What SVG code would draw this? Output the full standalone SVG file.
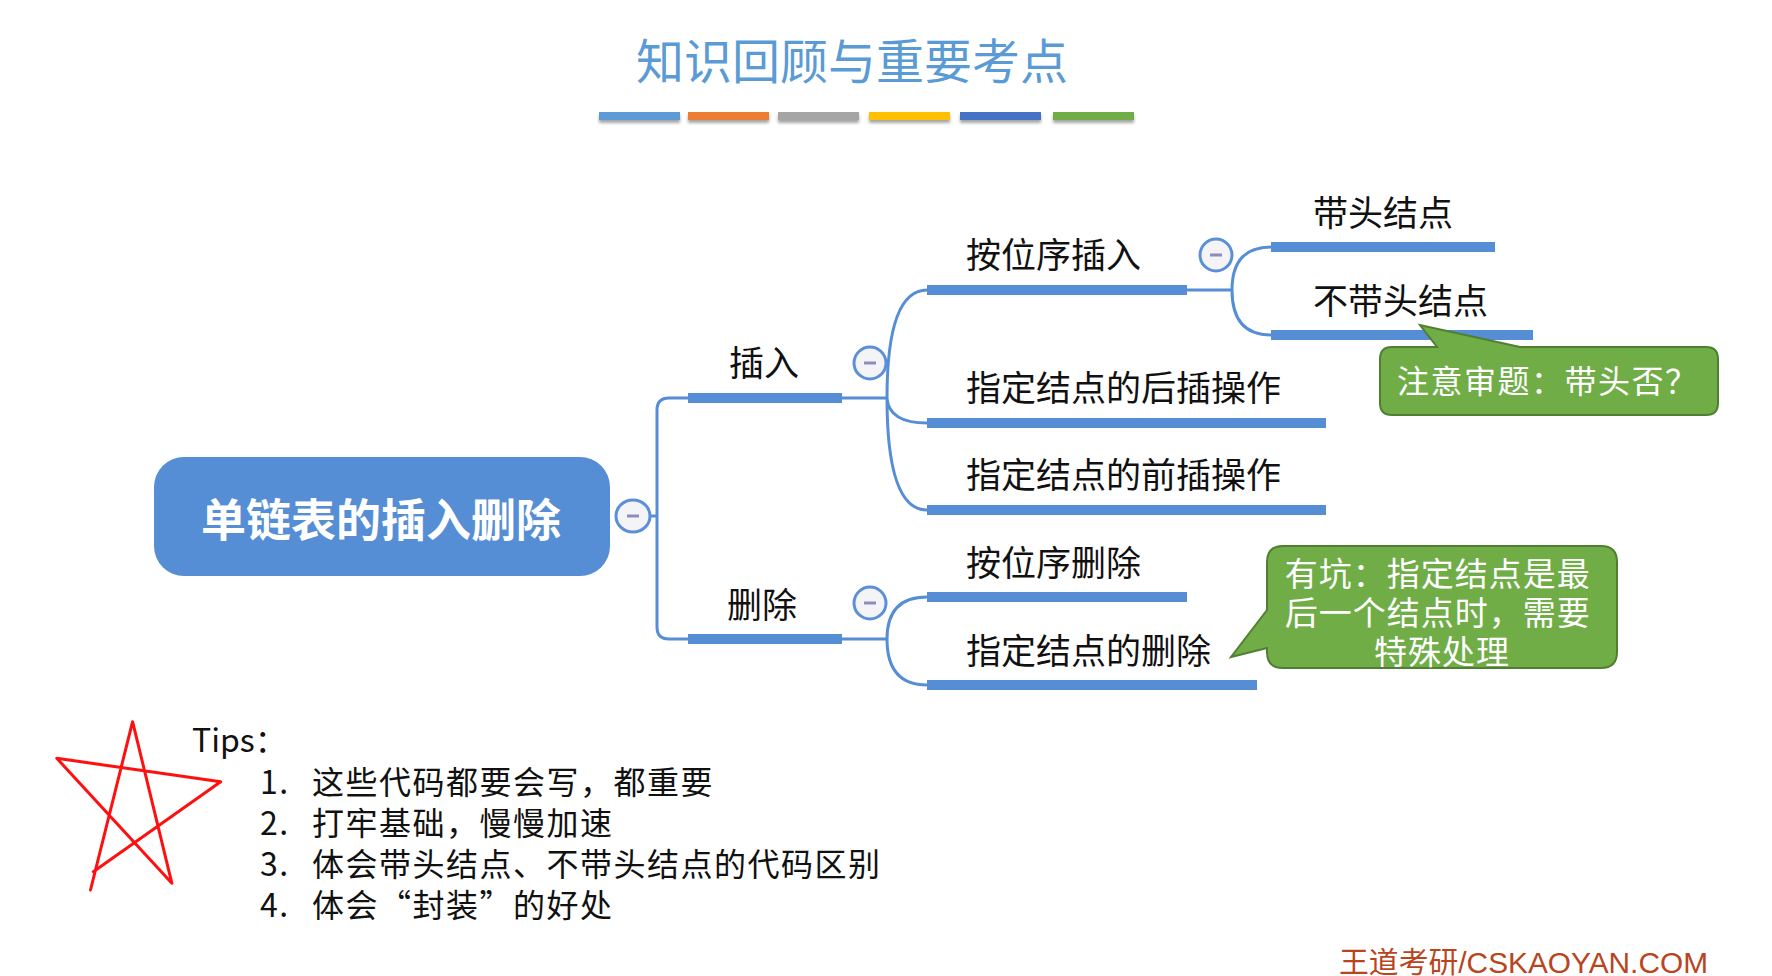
<svg xmlns="http://www.w3.org/2000/svg" width="1772" height="976" viewBox="0 0 1772 976">
<style>
.cjk{font-family:"Noto Sans CJK SC","Liberation Sans",sans-serif}
.lbl{font-family:"Noto Sans CJK SC",sans-serif;font-size:35px;fill:#111}
.thin{fill:none;stroke:#558ED5;stroke-width:3}
.bar{fill:none;stroke:#558ED5;stroke-width:10}
.btn{fill:#F4F4F6;stroke:#5B8FD9;stroke-width:3}
.minus{stroke:#8C8CC0;stroke-width:3}
.callout{fill:#70AD47;stroke:#507E32;stroke-width:2}
.cotext{font-family:"Noto Sans CJK SC",sans-serif;fill:#fff}
.tips{font-family:"Noto Sans CJK SC",sans-serif;font-size:32px;fill:#111}
</style>
<defs>
<filter id="sh" x="-10%" y="-50%" width="120%" height="250%">
<feDropShadow dx="0" dy="3" stdDeviation="1.5" flood-color="#000" flood-opacity="0.35"/>
</filter>
</defs>
<rect width="1772" height="976" fill="#fff"/>

<g id="title">
<text x="852" y="79" text-anchor="middle" class="cjk" font-size="48" fill="#5B9BD5">知识回顾与重要考点</text>
<g filter="url(#sh)">
<rect x="599" y="112" width="81" height="8" fill="#5B9BD5"/>
<rect x="688" y="112" width="81" height="8" fill="#ED7D31"/>
<rect x="778" y="112" width="81" height="8" fill="#A5A5A5"/>
<rect x="869" y="112" width="81" height="8" fill="#FFC000"/>
<rect x="960" y="112" width="81" height="8" fill="#4472C4"/>
<rect x="1053" y="112" width="81" height="8" fill="#70AD47"/>
</g>
</g>

<g id="connectors">
<path class="thin" d="M650 516 H657 M688 398 H669 Q657 398 657 410 V627 Q657 639 669 639 H688"/>
<path class="thin" d="M842 398 H887 M887 398 Q887 290 927 290 M887 398 Q889 423 927 423 M887 398 Q887 510 927 510"/>
<path class="thin" d="M1187 290 H1232 M1232 290 Q1232 247 1271 247 M1232 290 Q1232 335 1271 335"/>
<path class="thin" d="M842 639 H887 M887 639 Q887 597 927 597 M887 639 Q887 685 927 685"/>
</g>

<g id="root">
<rect x="154" y="457" width="456" height="119" rx="30" fill="#558ED5"/>
<text x="381" y="537" text-anchor="middle" class="cjk" font-size="45" font-weight="bold" fill="#fff">单链表的插入删除</text>
<ellipse class="btn" cx="633" cy="516" rx="17" ry="16"/>
<line class="minus" x1="627" y1="516" x2="639" y2="516"/>
</g>

<g id="insert">
<line class="bar" x1="688" y1="398" x2="842" y2="398"/>
<text x="729" y="376" class="lbl">插入</text>
<ellipse class="btn" cx="870" cy="363" rx="16" ry="16"/>
<line class="minus" x1="864" y1="363" x2="876" y2="363"/>
</g>

<g id="insert-by-pos">
<line class="bar" x1="927" y1="290" x2="1187" y2="290"/>
<text x="966" y="268" class="lbl">按位序插入</text>
<ellipse class="btn" cx="1216" cy="255" rx="16" ry="16"/>
<line class="minus" x1="1210" y1="255" x2="1222" y2="255"/>
</g>

<g id="with-head">
<line class="bar" x1="1271" y1="247" x2="1495" y2="247"/>
<text x="1313" y="226" class="lbl">带头结点</text>
</g>

<g id="without-head">
<line class="bar" x1="1271" y1="335" x2="1533" y2="335"/>
<text x="1313" y="314" class="lbl">不带头结点</text>
</g>

<g id="insert-after">
<line class="bar" x1="927" y1="423" x2="1326" y2="423"/>
<text x="966" y="401" class="lbl">指定结点的后插操作</text>
</g>

<g id="insert-before">
<line class="bar" x1="927" y1="510" x2="1326" y2="510"/>
<text x="966" y="488" class="lbl">指定结点的前插操作</text>
</g>

<g id="delete">
<line class="bar" x1="688" y1="639" x2="842" y2="639"/>
<text x="727" y="618" class="lbl">删除</text>
<ellipse class="btn" cx="870" cy="603" rx="16" ry="16"/>
<line class="minus" x1="864" y1="603" x2="876" y2="603"/>
</g>

<g id="delete-by-pos">
<line class="bar" x1="927" y1="597" x2="1187" y2="597"/>
<text x="966" y="576" class="lbl">按位序删除</text>
</g>

<g id="delete-node">
<line class="bar" x1="927" y1="685" x2="1257" y2="685"/>
<text x="966" y="664" class="lbl">指定结点的删除</text>
</g>

<g id="callout-head">
<path class="callout" d="M1392 347 H1437 L1420 325 L1520 347 H1706 Q1718 347 1718 359 V403 Q1718 415 1706 415 H1392 Q1380 415 1380 403 V359 Q1380 347 1392 347 Z"/>
<text x="1397" y="393" class="cotext" font-size="32" letter-spacing="1.5">注意审题：带头否？</text>
</g>

<g id="callout-delete">
<path class="callout" d="M1283 546 H1601 Q1617 546 1617 562 V652 Q1617 668 1601 668 H1283 Q1267 668 1267 652 V648 L1231 657 L1267 610 V562 Q1267 546 1283 546 Z"/>
<text class="cotext" font-size="33" text-anchor="middle" letter-spacing="1">
<tspan x="1442" y="586">有坑：指定结点是最</tspan>
<tspan x="1442" y="625">后一个结点时，需要</tspan>
<tspan x="1442" y="664">特殊处理</tspan>
</text>
</g>

<g id="star">
<path d="M90.5 890 L132.6 721.7 L171.9 883.3 L56.8 758.3 L220.7 781.7 L93.3 871.7" fill="none" stroke="#FF1010" stroke-width="3" stroke-linejoin="round" stroke-linecap="round"/>
</g>

<g id="tips">
<text x="192" y="752" class="tips" font-size="28">Tips：</text>
<text class="tips" letter-spacing="1.5">
<tspan x="260" y="794">1.</tspan><tspan x="312" y="794">这些代码都要会写，都重要</tspan>
<tspan x="260" y="835">2.</tspan><tspan x="312" y="835">打牢基础，慢慢加速</tspan>
<tspan x="260" y="876">3.</tspan><tspan x="312" y="876">体会带头结点、不带头结点的代码区别</tspan>
<tspan x="260" y="917">4.</tspan><tspan x="312" y="917">体会“封装”的好处</tspan>
</text>
</g>

<g id="footer">
<text x="1339" y="973" font-family="Liberation Sans,Noto Sans CJK SC,sans-serif" font-size="29" fill="#B8451E" textLength="369" lengthAdjust="spacingAndGlyphs">王道考研/CSKAOYAN.COM</text>
</g>
</svg>
